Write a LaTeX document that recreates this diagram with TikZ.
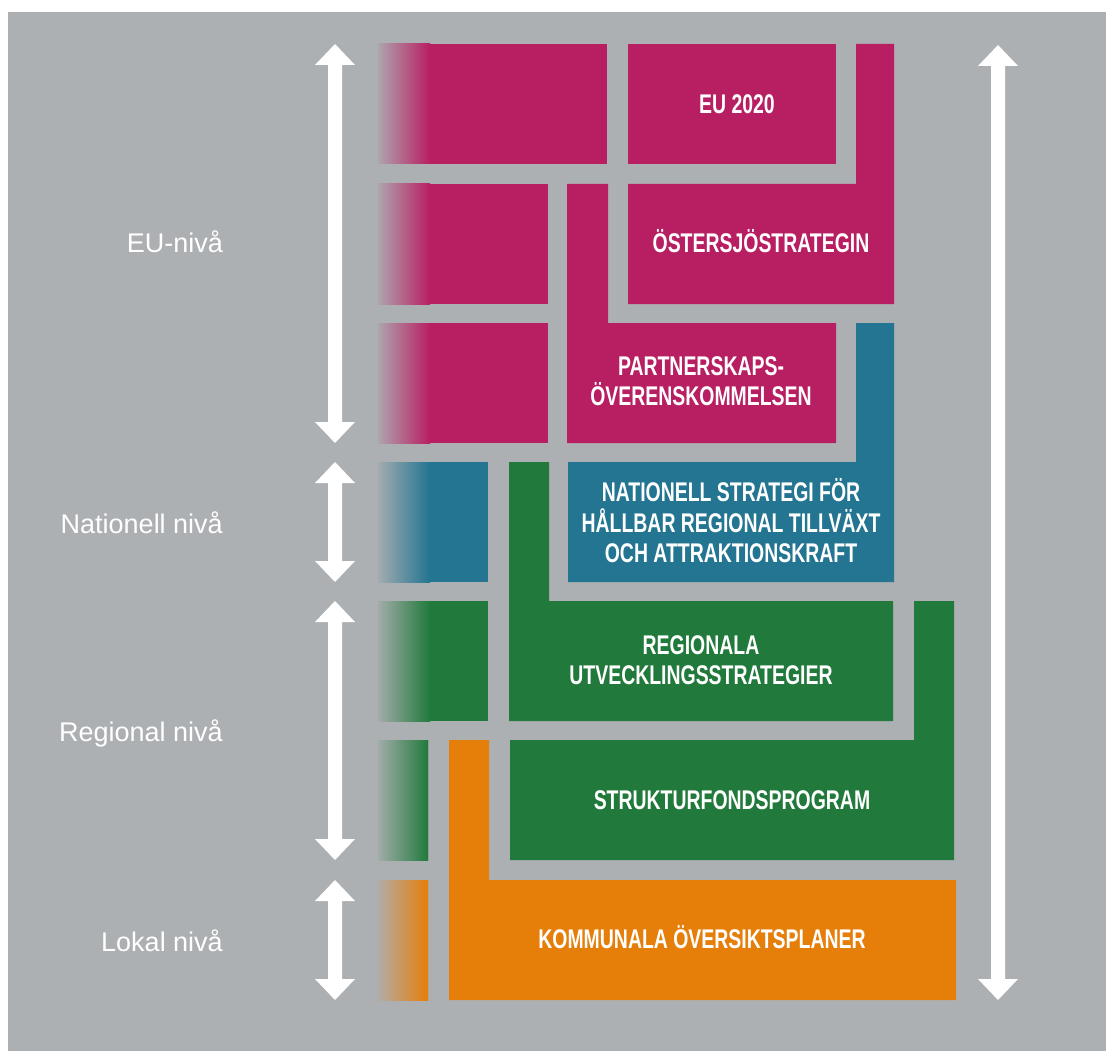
\documentclass[tikz,border=0pt]{standalone}
\usepackage{fontspec}
\setmainfont{Liberation Sans}
\newfontfamily\boxfont{Liberation Sans}[FakeStretch=0.72]
\definecolor{bg}{RGB}{173,176,179}
\definecolor{mag}{RGB}{184,30,98}
\definecolor{blu}{RGB}{35,117,145}
\definecolor{grn}{RGB}{33,122,60}
\definecolor{org}{RGB}{230,126,10}
\tikzset{
  boxlabel/.style={text=white, font=\boxfont\bfseries\fontsize{27}{30.5}\selectfont, align=center, inner sep=0pt},
  levellabel/.style={text=white, font=\fontsize{27}{32}\selectfont, anchor=base east, inner sep=0pt}
}
% faded left block: colour, y1, y2, fade end x, block end x
\newcommand\fadeblock[5]{%
  \shade[left color=#1!8!bg, right color=#1] (378,#2) rectangle (#4,#3);
  \fill[#1] (#4,#2) rectangle (#5,#3);}
% white double arrow: x, y top, y bottom
\newcommand\dblarrow[3]{%
  \fill[white] (#1-7,#2+21) -- (#1-20,#2+21) -- (#1,#2) -- (#1+20,#2+21) -- (#1+7,#2+21)
    -- (#1+7,#3-21) -- (#1+20,#3-21) -- (#1,#3) -- (#1-20,#3-21) -- (#1-7,#3-21) -- cycle;}
\begin{document}
\begin{tikzpicture}[x=1pt,y=-1pt]
\useasboundingbox (0,0) rectangle (1106,1051);
\fill[white] (0,0) rectangle (1106,1051);
\fill[bg] (8,12) rectangle (1106,1051);

% faded left column
\fadeblock{mag}{44}{164}{430}{607}
\fadeblock{mag}{184}{304}{430}{548}
\fadeblock{mag}{323}{443}{430}{548}
\fadeblock{blu}{462}{582}{430}{488}
\fadeblock{grn}{601}{721}{430}{488}
\fadeblock{grn}{740}{860}{428}{428}
\fadeblock{org}{880}{1000}{428}{428}

% EU level
\fill[mag] (628,44) rectangle (836,164);
\fill[mag] (856,44) -- (894,44) -- (894,304) -- (628,304) -- (628,184) -- (856,184) -- cycle;
\fill[mag] (567,184) -- (608,184) -- (608,323) -- (836,323) -- (836,443) -- (567,443) -- cycle;
% national
\fill[blu] (856,323) -- (894,323) -- (894,582) -- (568,582) -- (568,462) -- (856,462) -- cycle;
% regional
\fill[grn] (509,462) -- (549,462) -- (549,601) -- (893,601) -- (893,721) -- (509,721) -- cycle;
\fill[grn] (914,601) -- (954,601) -- (954,860) -- (510,860) -- (510,740) -- (914,740) -- cycle;
% local
\fill[org] (449,740) -- (489,740) -- (489,880) -- (956,880) -- (956,1000) -- (449,1000) -- cycle;

% arrows
\dblarrow{335}{44}{443}
\dblarrow{335}{462}{582}
\dblarrow{335}{601}{860}
\dblarrow{335}{880}{1000}
\dblarrow{998}{45}{1000}

% box labels
\node[boxlabel] (eu2020) at (737,104) {EU 2020};
\node[boxlabel] (ostersjo) at (761,241) {ÖSTERSJÖSTRATEGIN};
\node[boxlabel] (partner) at (701,381) {PARTNERSKAPS-\\ÖVERENSKOMMELSEN};
\node[boxlabel] (nationell) at (731,521) {NATIONELL STRATEGI FÖR\\HÅLLBAR REGIONAL TILLVÄXT\\OCH ATTRAKTIONSKRAFT};
\node[boxlabel] (regionala) at (701,660) {REGIONALA\\UTVECKLINGSSTRATEGIER};
\node[boxlabel] (struktur) at (732,800) {STRUKTURFONDSPROGRAM};
\node[boxlabel] (kommunala) at (702,937) {KOMMUNALA ÖVERSIKTSPLANER};

% level labels
\node[levellabel] (lev-eu) at (223,253) {EU-nivå};
\node[levellabel] (lev-nat) at (223,533) {Nationell nivå};
\node[levellabel] (lev-reg) at (223,741) {Regional nivå};
\node[levellabel] (lev-lok) at (223,951) {Lokal nivå};
\end{tikzpicture}
\end{document}
